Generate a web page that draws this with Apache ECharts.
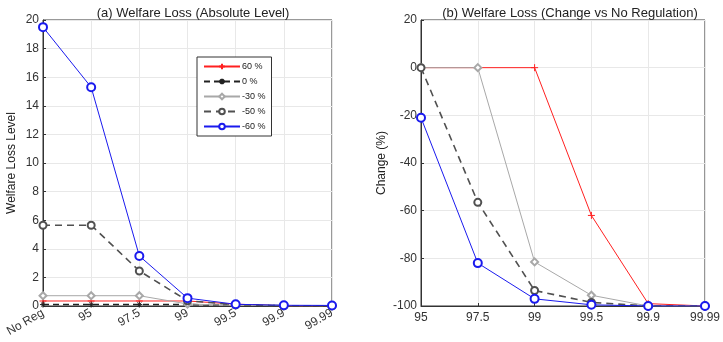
<!DOCTYPE html>
<html>
<head>
<meta charset="utf-8">
<script src="https://cdn.jsdelivr.net/npm/echarts@6/dist/echarts.min.js"></script>
<style>
  html, body { margin: 0; padding: 0; background: #fff; }
  #chart { width: 723px; height: 342px; }
</style>
</head>
<body>
<div id="chart"></div>
<script>
// categories
const levelCats = ['No Reg', '95', '97.5', '99', '99.5', '99.9', '99.99'];
const changeCats = ['95', '97.5', '99', '99.5', '99.9', '99.99'];

// (a) absolute welfare loss
const lossP60 = [0.35, 0.35, 0.35, 0.35, 0.13, 0.01, 0.01];
const loss0 = [0.1, 0.1, 0.1, 0.1, 0.06, 0.02, 0.01];
const lossM30 = [0.72, 0.72, 0.72, 0.14, 0.04, 0.01, 0.01];
const lossM50 = [5.65, 5.65, 2.45, 0.37, 0.09, 0.02, 0.01];
const lossM60 = [19.5, 15.3, 3.5, 0.55, 0.12, 0.05, 0.04];

// (b) change vs no regulation, %
const chgP60 = [0, 0, 0, -62, -99, -100];
const chgM30 = [0, 0, -81.5, -95.5, -100, -100];
const chgM50 = [0, -56.5, -93.5, -98.5, -100, -100];
const chgM60 = [-21, -82, -97, -99.5, -100, -100];

const names = ['60 %', '0 %', '-30 %', '-50 %', '-60 %'];

const plusSym = 'path://M5,0L5,10M0,5L10,5';
const starSym = 'path://M5,0L5,10M0,5L10,5M1.5,1.5L8.5,8.5M8.5,1.5L1.5,8.5';

const styles = {
  '60 %': { color: '#ff2020', type: 'solid', symbol: plusSym, size: 7, w: 1 },
  '0 %': { color: '#222222', type: [6, 4], symbol: starSym, size: 6, w: 1.6 },
  '-30 %': { color: '#a8a8a8', type: 'solid', symbol: 'emptyDiamond', size: 7, w: 1 },
  '-50 %': { color: '#505050', type: [7, 5], symbol: 'emptyCircle', size: 7, w: 1.6 },
  '-60 %': { color: '#1a1aee', type: 'solid', symbol: 'emptyCircle', size: 8, w: 1 }
};

function mk(name, data, idx) {
  const s = styles[name];
  return {
    name: name,
    type: 'line',
    xAxisIndex: idx,
    yAxisIndex: idx,
    data: data,
    symbol: s.symbol,
    symbolSize: s.size,
    showAllSymbol: true,
    lineStyle: { color: s.color, type: s.type, width: s.w },
    itemStyle: { color: s.color, borderColor: s.color, borderWidth: name === '-60 %' ? 1.8 : 1 },
    emphasis: { disabled: true },
    z: name === '-60 %' ? 5 : 3
  };
}

const axisTxt = { color: '#333', fontSize: 12, fontFamily: 'Liberation Sans' };
const splitL = { show: true, lineStyle: { color: '#e8e8e8', width: 1 } };
const tick = { show: true, inside: true, length: 3, lineStyle: { color: '#333' } };
const line = { show: true, onZero: false, lineStyle: { color: '#333', width: 1 } };

const chart = echarts.init(document.getElementById('chart'));

chart.setOption({
  animation: false,
  textStyle: { fontFamily: 'Liberation Sans' },
  title: [
    { text: '(a) Welfare Loss (Absolute Level)', left: 188, top: 2, textAlign: 'center',
      textStyle: { fontSize: 13, fontWeight: 'normal', color: '#222' } },
    { text: '(b) Welfare Loss (Change vs No Regulation)', left: 565, top: 2, textAlign: 'center',
      textStyle: { fontSize: 13, fontWeight: 'normal', color: '#222' } }
  ],
  legend: {
    orient: 'vertical',
    left: 197,
    top: 57,
    data: names,
    itemWidth: 36,
    itemHeight: 7,
    itemGap: 6,
    padding: [5, 6, 5, 6],
    borderColor: '#333',
    borderWidth: 1,
    backgroundColor: '#fff',
    textStyle: { fontSize: 9, color: '#222', padding: [0, 0, 0, -3] },
    selectedMode: false
  },
  grid: [
    { left: 43, top: 20, width: 289, height: 286, show: true, borderColor: '#333', borderWidth: 1 },
    { left: 421, top: 20, width: 288, height: 286, show: true, borderColor: '#333', borderWidth: 1 }
  ],
  xAxis: [
    { type: 'category', gridIndex: 0, data: levelCats, boundaryGap: false,
      axisLine: line, axisTick: tick, splitLine: splitL,
      axisLabel: Object.assign({}, axisTxt, { rotate: 30, margin: 6 }) },
    { type: 'category', gridIndex: 1, data: changeCats, boundaryGap: false,
      axisLine: line, axisTick: tick, splitLine: splitL,
      axisLabel: Object.assign({}, axisTxt, { margin: 6 }) }
  ],
  yAxis: [
    { type: 'value', gridIndex: 0, min: 0, max: 20, interval: 2,
      name: 'Welfare Loss Level', nameLocation: 'middle', nameGap: 25,
      nameTextStyle: { fontSize: 12, color: '#222' },
      axisLine: line, axisTick: tick, splitLine: splitL,
      axisLabel: Object.assign({}, axisTxt, { margin: 4 }) },
    { type: 'value', gridIndex: 1, min: -100, max: 20, interval: 20,
      name: 'Change (%)', nameLocation: 'middle', nameGap: 33,
      nameTextStyle: { fontSize: 12, color: '#222' },
      axisLine: line, axisTick: tick, splitLine: splitL,
      axisLabel: Object.assign({}, axisTxt, { margin: 4 }) }
  ],
  series: [
    mk('60 %', lossP60, 0),
    mk('0 %', loss0, 0),
    mk('-30 %', lossM30, 0),
    mk('-50 %', lossM50, 0),
    mk('-60 %', lossM60, 0),
    mk('60 %', chgP60, 1),
    mk('-30 %', chgM30, 1),
    mk('-50 %', chgM50, 1),
    mk('-60 %', chgM60, 1)
  ]
});
</script>
</body>
</html>
